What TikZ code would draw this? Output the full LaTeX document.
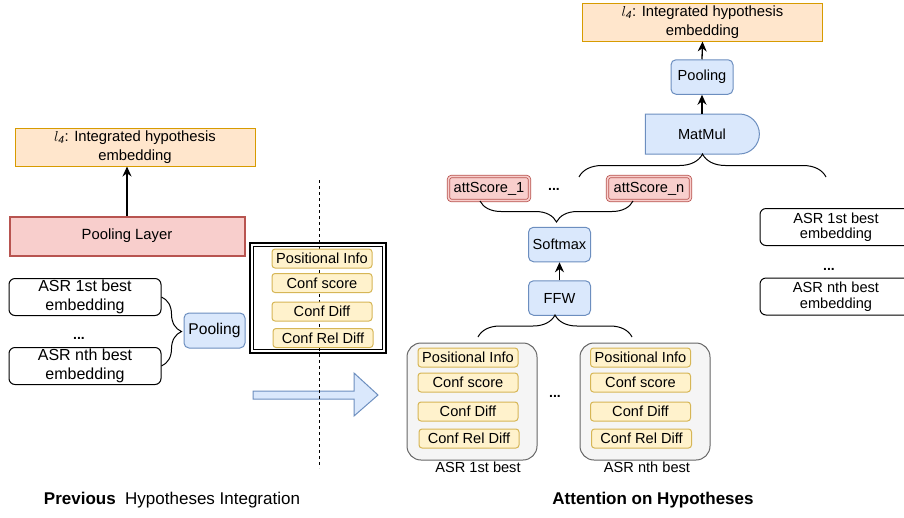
\documentclass[tikz,border=0pt]{standalone}
\usepackage{fontspec}
\setmainfont{Liberation Sans}
\usepackage{xcolor}
\usepackage{amsmath}
\usepackage{tikz}
\usetikzlibrary{arrows.meta,positioning,decorations.pathreplacing,shapes.misc}
\definecolor{peach}{HTML}{FFE6CC}
\definecolor{ochre}{HTML}{D79B00}
\definecolor{rose}{HTML}{F8CECC}
\definecolor{brick}{HTML}{B85450}
\definecolor{sky}{HTML}{DAE8FC}
\definecolor{steel}{HTML}{6C8EBF}
\definecolor{cream}{HTML}{FFF2CC}
\definecolor{mustard}{HTML}{D6B656}
\definecolor{mist}{HTML}{F5F5F5}
\definecolor{slate}{HTML}{666666}

\begin{document}
\begin{tikzpicture}[x=1pt,y=-1pt,
  outbox/.style={rectangle,draw=ochre,line width=1pt,fill=peach,minimum width=240pt,minimum height=38pt,align=center,font=\fontsize{14.8}{19}\selectfont,inner sep=0pt},
  poolbar/.style={rectangle,draw=brick,line width=2pt,fill=rose,minimum width=235pt,minimum height=39pt,font=\fontsize{14.8}{16}\selectfont,inner sep=0pt},
  embbox/.style={rectangle,rounded corners=6pt,draw=black,line width=1pt,fill=white,minimum width=152pt,minimum height=37pt,align=center,font=\fontsize{14.6}{16}\selectfont,inner sep=0pt},
  bluebox/.style={rectangle,rounded corners=5pt,draw=steel,line width=1pt,fill=sky,minimum width=62pt,minimum height=34.5pt,font=\fontsize{14.6}{16}\selectfont,inner sep=0pt},
  feat/.style={rectangle,rounded corners=3pt,draw=mustard,line width=1pt,fill=cream,minimum width=100pt,minimum height=19pt,font=\fontsize{14.6}{16}\selectfont,inner sep=0pt},
  score/.style={rectangle,rounded corners=3pt,draw=brick,line width=0.8pt,double=rose,double distance=1.6pt,fill=rose,minimum width=81pt,minimum height=24pt,font=\fontsize{14.6}{16}\selectfont,inner sep=0pt},
  hypbox/.style={rectangle,rounded corners=14pt,draw=slate,line width=1pt,fill=mist,minimum width=130pt,minimum height=117pt},
  frame/.style={rectangle,draw=black,fill=none,inner sep=0pt},
  dots/.style={font=\fontsize{14}{16}\selectfont\bfseries,inner sep=0pt},
  lbl/.style={font=\fontsize{14.6}{16}\selectfont,inner sep=0pt},
  captext/.style={font=\fontsize{17}{19}\selectfont,inner sep=0pt},
  arr/.style={-{Stealth[length=10pt,width=9pt]},line width=1.3pt},
  brc/.style={decorate,decoration={brace,amplitude=20pt},line width=1pt}]
\useasboundingbox (0,0) rectangle (904,517);

\draw[draw=steel,fill=sky,line width=1pt] (253,391) -- (354,391) -- (354,373) -- (378,395) -- (354,416) -- (354,399) -- (253,399) -- cycle;

\node[outbox] (lout) at (135,147) {$l_{\mathit{4}}$: Integrated hypothesis\\embedding};
\node[poolbar] (lbar) at (127,236) {Pooling Layer};
\draw[arr] (lbar.north) -- (lbar.north |- lout.south);
\node[embbox,font=\fontsize{16}{18.5}\selectfont] (le1) at (85,297) {ASR 1st best\\embedding};
\node[dots] (ld) at (79,338) {...};
\node[embbox,font=\fontsize{16}{18.5}\selectfont] (len) at (85,366) {ASR nth best\\embedding};
\draw[brc] (le1.east) -- (len.east);
\node[bluebox,minimum width=61pt,minimum height=35pt,font=\fontsize{15.6}{17}\selectfont] (lpool) at (214.5,330.5) {Pooling};

\node[frame,line width=1.6pt,minimum width=136pt,minimum height=110pt] (lframe) at (318,298) {};
\node[frame,line width=1pt,minimum width=129pt,minimum height=103pt] (lframein) at (318,298) {};
\coordinate (sepT) at (319,180);
\coordinate (sepB) at (319,468);
\draw[line width=1pt,dash pattern=on 3pt off 3pt] (sepT) -- (sepB);
\node[feat] (lf1) at (322,258.5) {Positional Info};
\node[feat] (lf2) at (322,283) {Conf score};
\node[feat] (lf3) at (322,311.5) {Conf Diff};
\node[feat] (lf4) at (323,338) {Conf Rel Diff};

\node[outbox] (rout) at (702.5,22) {$l_{\mathit{4}}$: Integrated hypothesis\\embedding};
\node[bluebox] (rpool) at (702,77) {Pooling};
\node[rounded rectangle,rounded rectangle west arc=none,draw=steel,line width=1pt,fill=sky,minimum width=114pt,minimum height=40pt,font=\fontsize{14.6}{16}\selectfont,inner sep=0pt] (mm) at (702,134) {MatMul};
\draw[arr] (rpool.north) -- (rout.south);
\draw[arr] (mm.north) -- (rpool.south);
\coordinate (mmL) at (579,177);
\coordinate (mmR) at (826,177);
\draw[brc,decoration={amplitude=23pt}] (mmL) -- (mmR);

\node[score] (a1) at (489,188.5) {attScore\_1};
\node[dots] (ad) at (554,189) {...};
\node[score,minimum width=83pt] (an) at (649,188.5) {attScore\_n};
\coordinate (sL) at (480,201);
\coordinate (sR) at (633,201);
\draw[brc,decoration={mirror,amplitude=21pt}] (sL) -- (sR);

\node[bluebox] (soft) at (559.5,244.5) {Softmax};
\node[bluebox] (ffw) at (559.5,298) {FFW};
\draw[arr] (ffw.north) -- (soft.south);
\coordinate (fL) at (478,337);
\coordinate (fR) at (632,337);
\draw[brc,decoration={amplitude=22pt}] (fL) -- (fR);

\node[hypbox] (h1) at (472,401.5) {};
\node[hypbox] (hn) at (645,401.5) {};
\node[feat] (h1f1) at (468,357.5) {Positional Info};
\node[feat] (h1f2) at (468,382.5) {Conf score};
\node[feat] (h1f3) at (468,411.5) {Conf Diff};
\node[feat] (h1f4) at (469,438.5) {Conf Rel Diff};
\node[feat] (hnf1) at (640.5,357.5) {Positional Info};
\node[feat] (hnf2) at (640.5,382.5) {Conf score};
\node[feat] (hnf3) at (640.5,411.5) {Conf Diff};
\node[feat] (hnf4) at (641.5,438.5) {Conf Rel Diff};
\node[dots] (hd) at (555,396) {...};
\node[lbl] (h1l) at (478,467) {ASR 1st best};
\node[lbl] (hnl) at (647,467) {ASR nth best};

\begin{scope}
\clip (0,0) rectangle (904,517);
\node[embbox,font=\fontsize{14.6}{15.5}\selectfont] (r1) at (836,227) {ASR 1st best\\embedding};
\node[dots] (rd) at (829,269) {...};
\node[embbox,font=\fontsize{14.6}{15.5}\selectfont] (rn) at (836,296.5) {ASR nth best\\embedding};
\end{scope}

\node[captext] (c1) at (172,500) {\textbf{Previous}\ \ Hypotheses Integration};
\node[captext,font=\fontsize{17}{19}\selectfont\bfseries] (c2) at (653,500) {Attention on Hypotheses};
\end{tikzpicture}
\end{document}
